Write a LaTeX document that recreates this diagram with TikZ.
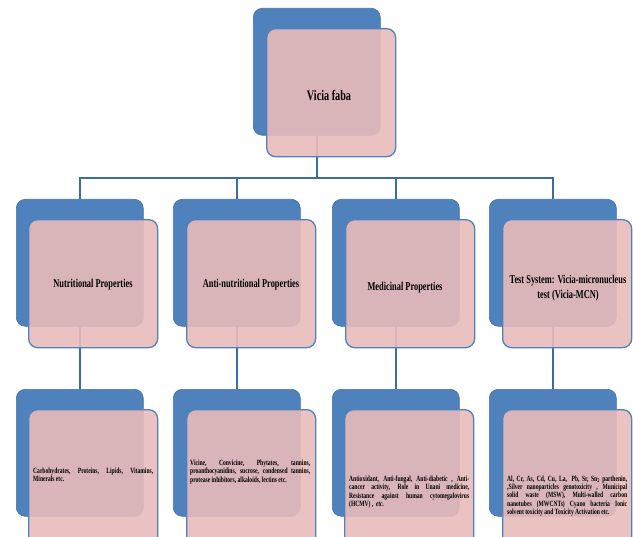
\documentclass[tikz,border=0pt]{standalone}
\usepackage{fontspec}
\setmainfont{Liberation Serif}[FakeStretch=0.7]
\usetikzlibrary{backgrounds}
\definecolor{boxblue}{HTML}{4F81BD}
\definecolor{boxblueline}{HTML}{41719C}
\definecolor{boxpink}{HTML}{E8BBBA}
\definecolor{pinkline}{HTML}{4F81BD}
\definecolor{conn}{HTML}{3C6BA8}
\tikzset{
  bluebox/.style={draw=boxblueline, line width=0.6bp, fill=boxblue, rounded corners=9bp,
    minimum width=127bp, minimum height=127bp, anchor=north west, inner sep=0pt},
  pinkbox/.style={draw=pinkline, line width=1.3bp, fill=boxpink, fill opacity=0.9,
    rounded corners=9bp, minimum width=129bp, minimum height=128bp, anchor=north west, inner sep=0pt},
  connector/.style={draw=conn, line width=1.4bp},
  titletext/.style={font=\fontsize{14.6}{16}\selectfont\bfseries, text=black, align=center},
  midtext/.style={font=\fontsize{12}{14.5}\selectfont\bfseries, text=black, align=center},
  smalltext/.style={font=\fontsize{8}{8.3}\selectfont\bfseries, text=black, align=justify,
    text width=120bp, inner sep=0pt, anchor=west},
}
\begin{document}
\begin{tikzpicture}[x=1bp,y=-1bp]
\useasboundingbox (0,0) rectangle (633,537);
% top
\node[bluebox] (b0) at (253,8) {};
\node[pinkbox] (p0) at (266,28) {};
\node[titletext] (t0) at (329,95) {Vicia faba};
% level 2
\node[bluebox] (b1) at (16,199) {};
\node[bluebox] (b2) at (173,199) {};
\node[bluebox] (b3) at (332,199) {};
\node[bluebox] (b4) at (489,199) {};
\node[pinkbox] (p1) at (28,219) {};
\node[pinkbox] (p2) at (186,219) {};
\node[pinkbox] (p3) at (345,219) {};
\node[pinkbox] (p4) at (502,219) {};
\node[midtext] (t1) at (93,285) {Nutritional Properties};
\node[midtext] (t2) at (251,285) {Anti-nutritional Properties};
\node[midtext] (t3) at (405,288) {Medicinal Properties};
\node[midtext] (t4) at (568,288) {Test System: Vicia-micronucleus\\test (Vicia-MCN)};
% level 3
\node[bluebox] (c1) at (16,389) {};
\node[bluebox] (c2) at (173,389) {};
\node[bluebox] (c3) at (332,389) {};
\node[bluebox] (c4) at (489,389) {};
\node[pinkbox, minimum height=148bp] (q1) at (28,409) {};
\node[pinkbox, minimum height=148bp] (q2) at (186,409) {};
\node[pinkbox, minimum height=148bp] (q3) at (344,409) {};
\node[pinkbox, minimum height=148bp] (q4) at (502,409) {};
\node[smalltext] (s1) at (33,475) {Carbohydrates, Proteins, Lipids, Vitamins,\linebreak Minerals etc.};
\node[smalltext] (s2) at (190,472) {Vicine, Convicine, Phytates, tannins,\linebreak proanthocyanidins, sucrose, condensed tannins,\linebreak protease inhibitors, alkaloids, lectins etc.};
\node[smalltext] (s3) at (349,492) {Antioxidant, Anti-fungal, Anti-diabetic , Anti-\linebreak cancer activity, Role in Unani medicine,\linebreak Resistance against human cytomegalovirus\linebreak (HCMV) ,\ \ \textit{etc.}};
\node[smalltext] (s4) at (507,496) {Al, Cr, As, Cd, Cu, La,\ \ Pb, Sr, Sn\textsubscript{2} parthenin,\linebreak ,Silver nanoparticles genotoxicity , Municipal\linebreak solid waste (MSW), Multi-walled carbon\linebreak nanotubes (MWCNTs) Cyano bacteria Ionic\linebreak solvent toxicity and Toxicity Activation etc.};
% connectors
\coordinate (h) at (0,178);
\begin{scope}[on background layer]
\draw[connector] (b0.south) -- (b0.south |- h);
\draw[connector] (b1.north) -- (b1.north |- h) -- (b4.north |- h) -- (b4.north);
\draw[connector] (b2.north) -- (b2.north |- h);
\draw[connector] (b3.north) -- (b3.north |- h);
\draw[connector] (b1.south) -- (c1.north);
\draw[connector] (b2.south) -- (c2.north);
\draw[connector] (b3.south) -- (c3.north);
\draw[connector] (b4.south) -- (c4.north);
\end{scope}
\end{tikzpicture}
\end{document}
